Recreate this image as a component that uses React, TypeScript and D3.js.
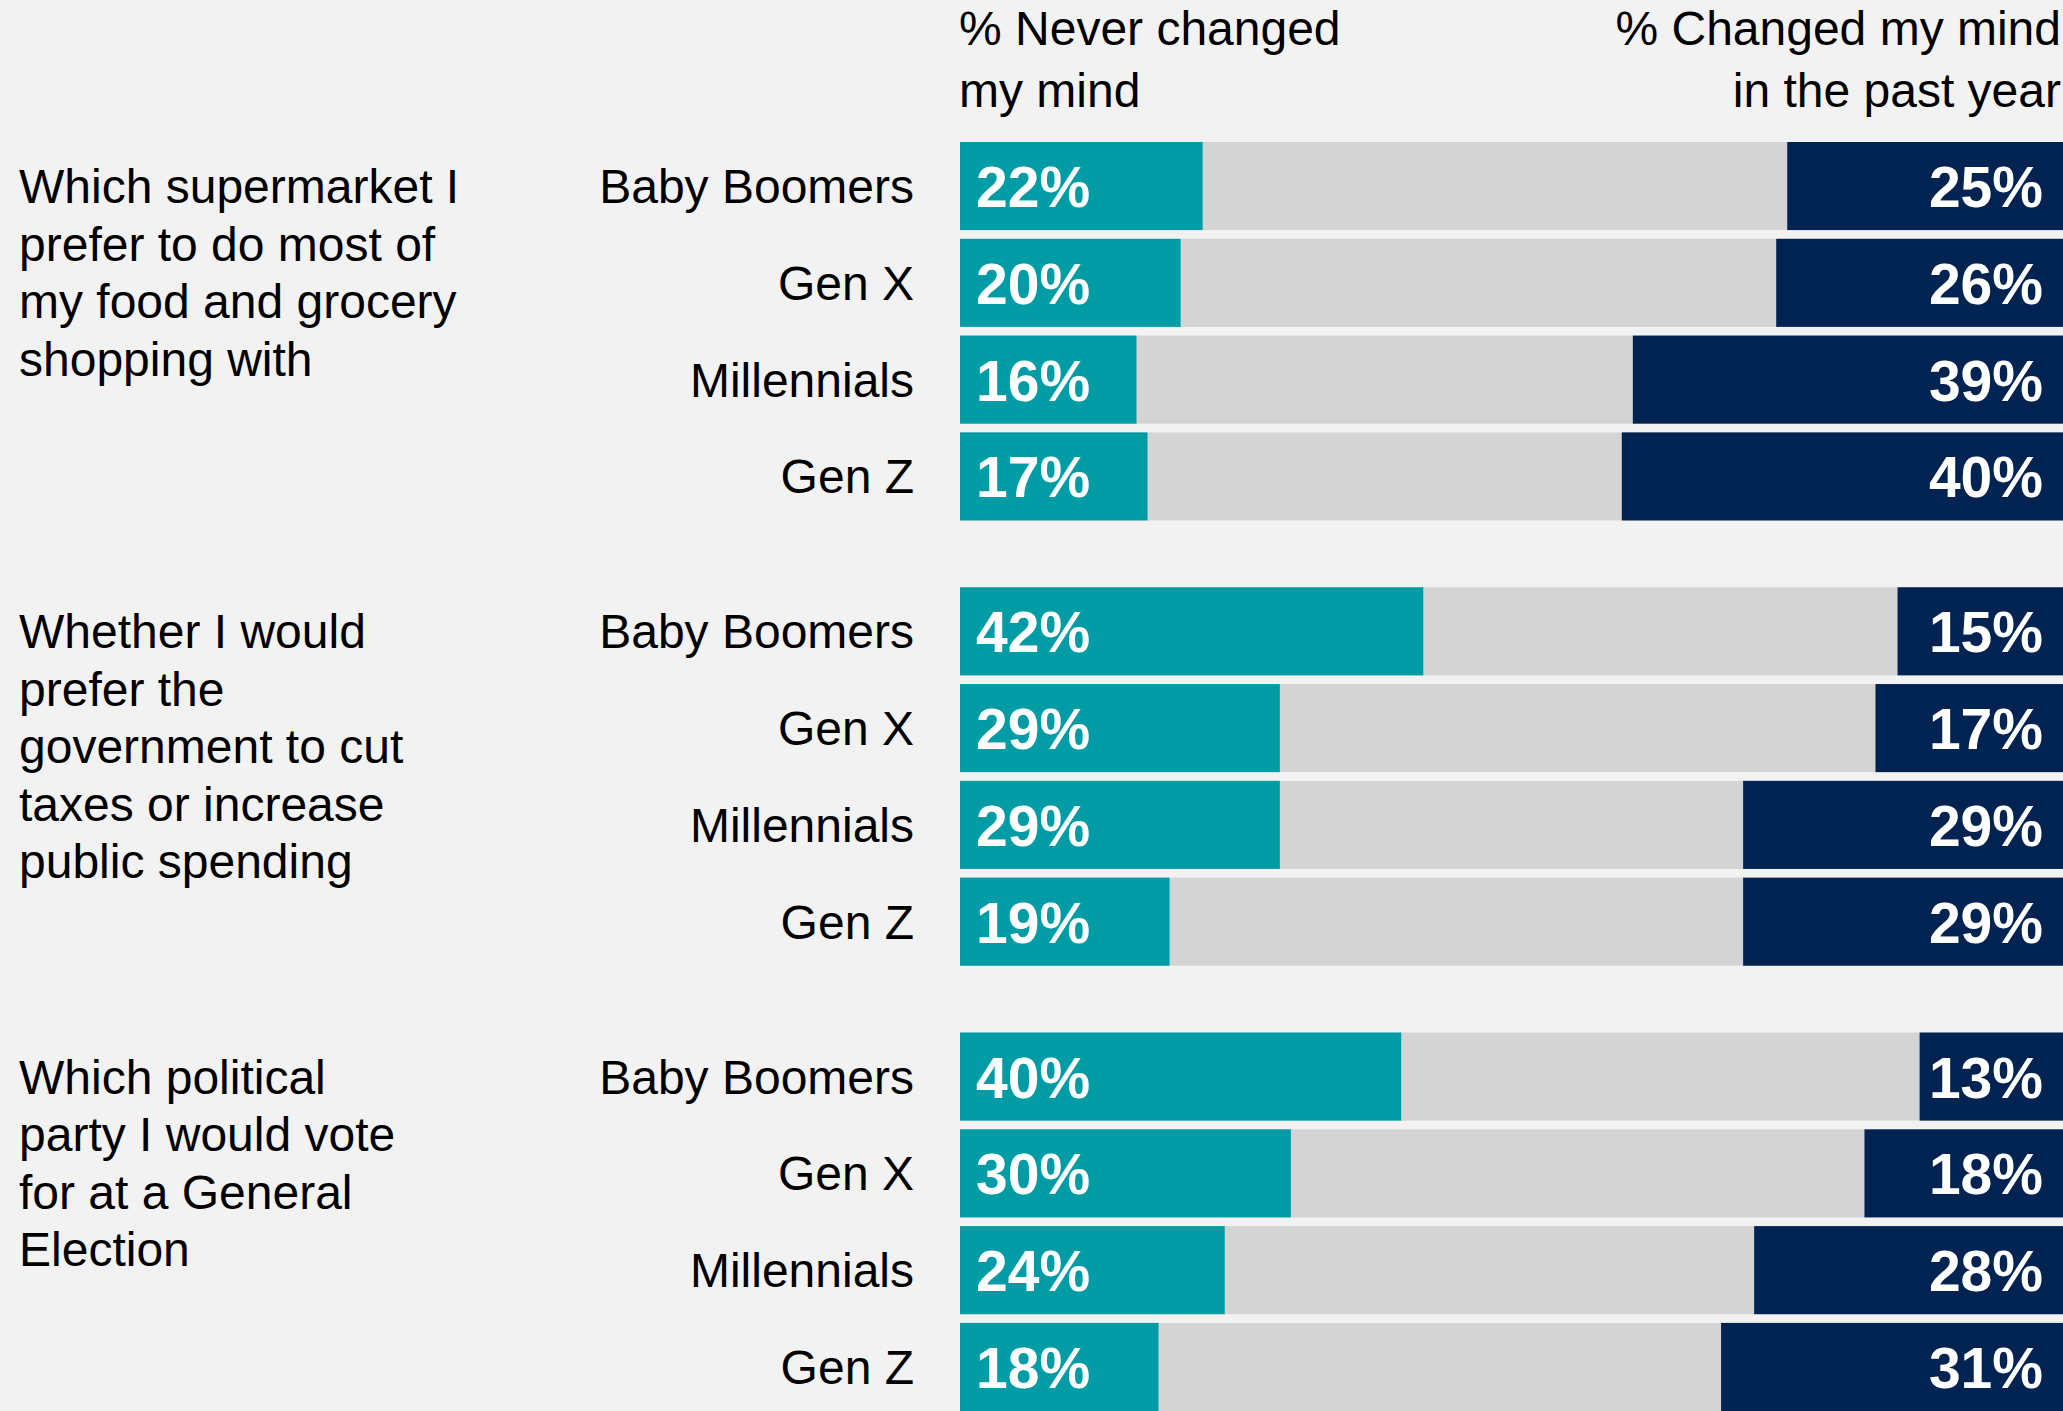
import React from "react";
import * as d3 from "d3";

const questions = ["supermarket", "tax", "party"];
const questionLines: string[][] = [
  ["Which supermarket I", "prefer to do most of", "my food and grocery", "shopping with"],
  ["Whether I would", "prefer the", "government to cut", "taxes or increase", "public spending"],
  ["Which political", "party I would vote", "for at a General", "Election"],
];
const generations = ["Baby Boomers", "Gen X", "Millennials", "Gen Z"];
const neverChanged: number[][] = [
  [22, 20, 16, 17],
  [42, 29, 29, 19],
  [40, 30, 24, 18],
];
const changedPastYear: number[][] = [
  [25, 26, 39, 40],
  [15, 17, 29, 29],
  [13, 18, 28, 31],
];
const headerLeft = ["% Never changed", "my mind"];
const headerRight = ["% Changed my mind", "in the past year"];

const W = 2063;
const H = 1411;
const FONT = "'Liberation Sans', Arial, Helvetica, sans-serif";
const TEAL = "#009ca6";
const NAVY = "#002352";
const GRAY = "#d4d4d4";
const BG = "#f2f2f2";
const FS = 48;

export default function App() {
  const x = d3.scaleLinear().domain([0, 100]).range([960, 2063]);
  const yGroup = d3.scaleBand<string>().domain(questions).range([142, 1411]).paddingInner(0.15).paddingOuter(0);
  const yRow = d3.scaleBand<string>().domain(generations).range([0, yGroup.bandwidth()]).paddingInner(0.09).paddingOuter(0);
  const bw = yRow.bandwidth();

  return (
    <svg width={W} height={H} style={{ position: "absolute", left: 0, top: 0, display: "block" }} fontFamily={FONT}>
      <rect x={0} y={0} width={W} height={H} fill={BG} />
      {headerLeft.map((t, i) => (
        <text key={"hl" + i} x={959} y={45 + i * 62} fontSize={FS} fill="#000">{t}</text>
      ))}
      {headerRight.map((t, i) => (
        <text key={"hr" + i} x={2061} y={45 + i * 62} fontSize={FS} fill="#000" textAnchor="end">{t}</text>
      ))}
      {questions.map((q, qi) => {
        const gy = yGroup(q)!;
        const firstCenter = gy + (yRow(generations[0])! + bw / 2);
        return (
          <g key={q}>
            {questionLines[qi].map((line, li) => (
              <text key={li} x={19} y={firstCenter + 17 + li * 57.5} fontSize={FS} fill="#000">{line}</text>
            ))}
            {generations.map((g, gi) => {
              const y0 = gy + yRow(g)!;
              const cy = y0 + bw / 2;
              const nv = neverChanged[qi][gi];
              const ch = changedPastYear[qi][gi];
              return (
                <g key={g}>
                  <text x={914} y={cy + 17} fontSize={FS} fill="#000" textAnchor="end">{g}</text>
                  <rect x={x(0)} y={y0} width={x(100) - x(0)} height={bw} fill={GRAY} />
                  <rect x={x(0)} y={y0} width={x(nv) - x(0)} height={bw} fill={TEAL} />
                  <rect x={x(100 - ch)} y={y0} width={x(100) - x(100 - ch)} height={bw} fill={NAVY} />
                  <text x={x(0) + 16} y={cy + 21} fontSize={57} fontWeight="bold" fill="#fff">{nv}%</text>
                  <text x={x(100) - 20} y={cy + 21} fontSize={57} fontWeight="bold" fill="#fff" textAnchor="end">{ch}%</text>
                </g>
              );
            })}
          </g>
        );
      })}
    </svg>
  );
}
